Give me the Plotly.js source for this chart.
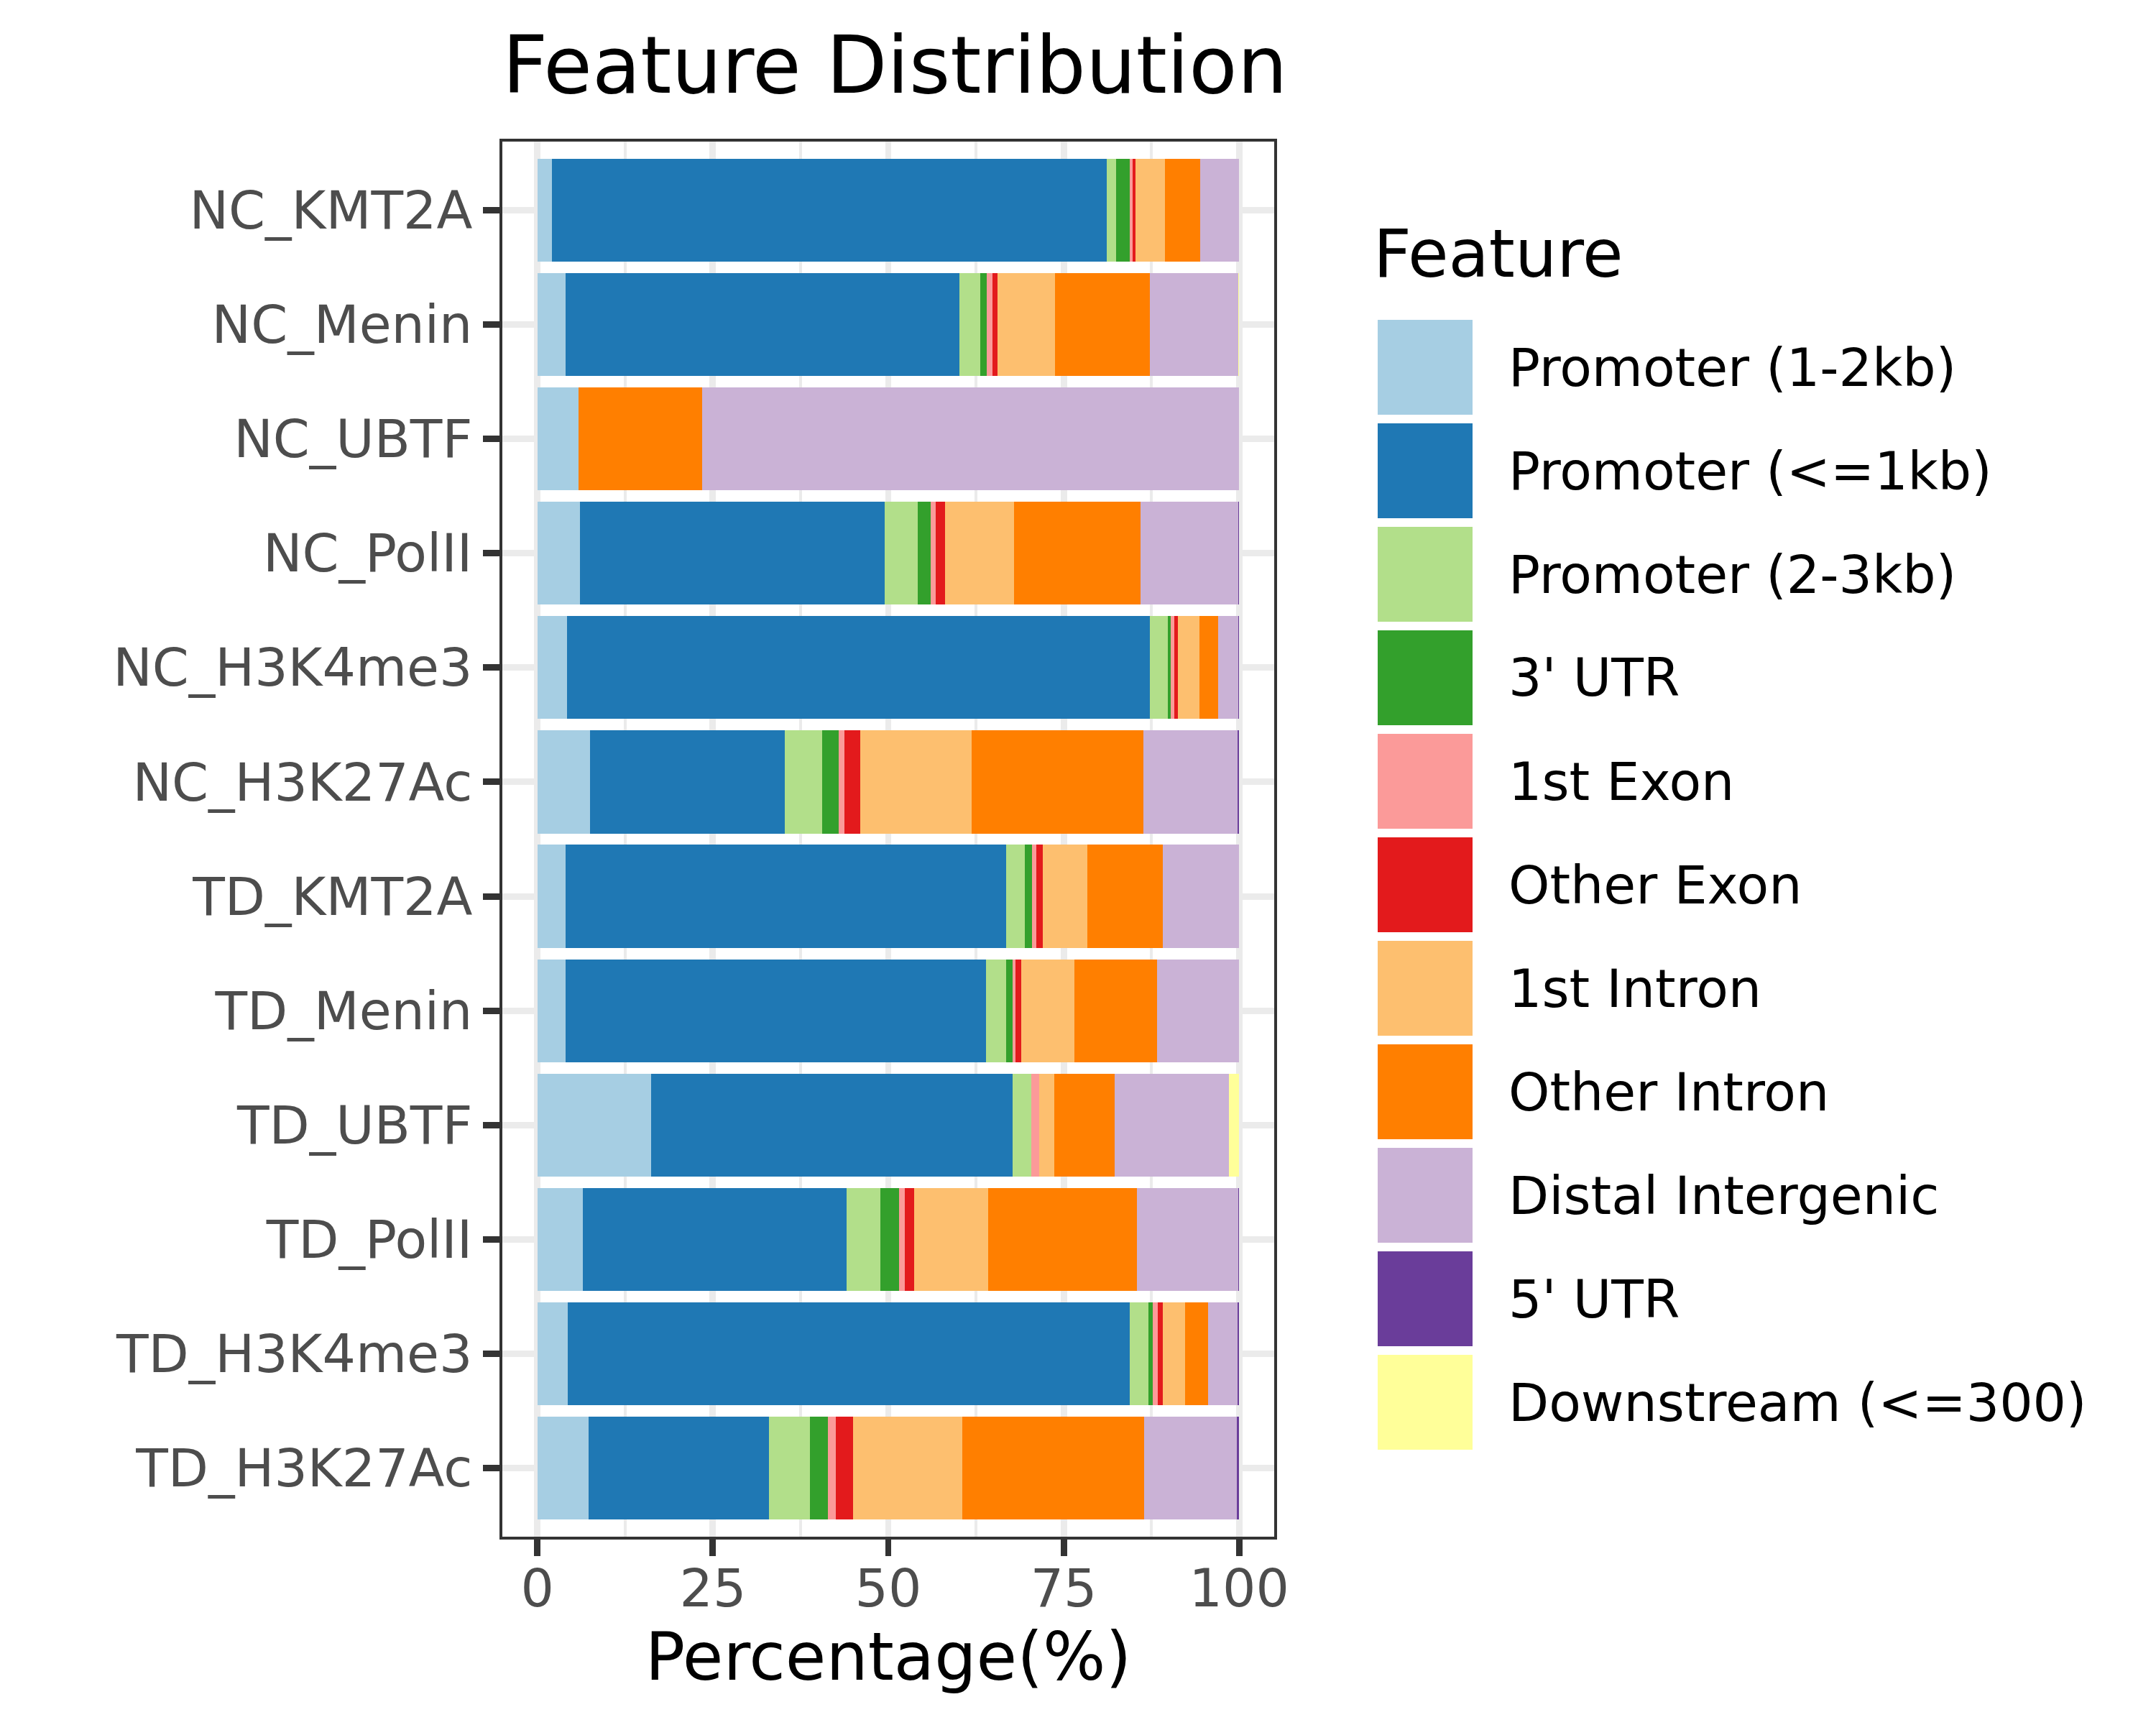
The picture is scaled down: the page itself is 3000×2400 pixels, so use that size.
<!DOCTYPE html>
<html>
<head>
<meta charset="utf-8">
<script src="https://cdn.plot.ly/plotly-3.0.1.min.js"></script>
<style>
  html, body { margin: 0; padding: 0; background: #ffffff; }
  #chart { width: 3000px; height: 2400px; }
</style>
</head>
<body>
<div id="chart"></div>
<script>
// samples, top to bottom
const samples = ['NC_KMT2A', 'NC_Menin', 'NC_UBTF', 'NC_PolII', 'NC_H3K4me3', 'NC_H3K27Ac',
                 'TD_KMT2A', 'TD_Menin', 'TD_UBTF', 'TD_PolII', 'TD_H3K4me3', 'TD_H3K27Ac'];

// percentages per feature, one value per sample
const prom12      = [2.1, 4.0, 5.9, 6.1, 4.2, 7.5, 4.0, 4.0, 16.2, 6.5, 4.3, 7.3];
const prom1       = [79.0, 56.1, 0, 43.4, 83.1, 27.7, 62.8, 59.9, 51.5, 37.6, 80.1, 25.7];
const prom23      = [1.4, 3.0, 0, 4.7, 2.5, 5.4, 2.7, 2.9, 2.7, 4.8, 2.7, 5.8];
const utr3        = [1.9, 0.95, 0, 1.8, 0.4, 2.3, 1.0, 0.9, 0, 2.6, 0.6, 2.6];
const exon1       = [0.4, 0.75, 0, 0.8, 0.6, 0.9, 0.6, 0.4, 1.1, 0.9, 0.7, 1.1];
const exonOther   = [0.4, 0.8, 0, 1.3, 0.5, 2.2, 0.9, 0.8, 0, 1.3, 0.7, 2.5];
const intron1     = [4.2, 8.2, 0, 9.8, 3.0, 15.9, 6.4, 7.6, 2.2, 10.5, 3.2, 15.6];
const intronOther = [5.1, 13.5, 17.6, 18.0, 2.7, 24.5, 10.7, 11.8, 8.6, 21.2, 3.3, 25.9];
const distal      = [5.5, 12.6, 76.5, 14.0, 2.9, 13.4, 10.9, 11.7, 16.2, 14.5, 4.2, 13.2];
const utr5        = [0, 0, 0, 0.1, 0.1, 0.2, 0, 0, 0, 0.1, 0.2, 0.3];
const downstream  = [0, 0.1, 0, 0, 0, 0, 0, 0, 1.5, 0, 0, 0];

const features = ['Promoter (1-2kb)', 'Promoter (<=1kb)', 'Promoter (2-3kb)', "3' UTR", '1st Exon',
                  'Other Exon', '1st Intron', 'Other Intron', 'Distal Intergenic', "5' UTR", 'Downstream (<=300)'];
const featureValues = [prom12, prom1, prom23, utr3, exon1, exonOther, intron1, intronOther, distal, utr5, downstream];
// RColorBrewer "Paired"
const colors = ['#A6CEE3', '#1F78B4', '#B2DF8A', '#33A02C', '#FB9A99', '#E31A1C',
                '#FDBF6F', '#FF7F00', '#CAB2D6', '#6A3D9A', '#FFFF99'];

const FONT = 'DejaVu Sans';

// plot area in pixels
const L = 699, R = 1773, T = 197, B = 2138;
const px2x = px => (px - L) / (R - L);
const py2y = py => (B - py) / (B - T);

const traces = features.map((f, i) => ({
    type: 'bar',
    orientation: 'h',
    name: f,
    x: featureValues[i],
    y: samples,
    width: 0.9,
    marker: { color: colors[i], line: { width: 0 } },
    hoverinfo: 'skip',
    showlegend: false
}));

// hand-built legend (ggplot style large keys)
const shapes = [];
const annotations = [];
const keyLeft = 1917, keySize = 132, keyTop = 445, keyStep = 144, labelLeft = 2097;
features.forEach((f, i) => {
    const top = keyTop + i * keyStep;
    shapes.push({
        type: 'rect', xref: 'paper', yref: 'paper',
        x0: px2x(keyLeft), x1: px2x(keyLeft + keySize),
        y0: py2y(top + keySize), y1: py2y(top),
        fillcolor: colors[i], line: { width: 0 }
    });
    annotations.push({
        xref: 'paper', yref: 'paper',
        x: px2x(labelLeft), y: py2y(top + keySize / 2),
        xanchor: 'left', yanchor: 'middle',
        text: f, showarrow: false,
        font: { family: FONT, size: 73, color: '#000000' }
    });
});
annotations.push({
    xref: 'paper', yref: 'paper',
    x: px2x(keyLeft - 8), y: py2y(354),
    xanchor: 'left', yanchor: 'middle',
    text: 'Feature', showarrow: false,
    font: { family: FONT, size: 92, color: '#000000' }
});

const layout = {
    width: 3000,
    height: 2400,
    paper_bgcolor: '#ffffff',
    plot_bgcolor: '#ffffff',
    margin: { l: L, r: 3000 - R, t: T, b: 2400 - B, pad: 0 },
    barmode: 'stack',
    font: { family: FONT, color: '#000000' },
    title: {
        text: 'Feature Distribution',
        font: { family: FONT, size: 110, color: '#000000' },
        xref: 'paper', x: 0, xanchor: 'left',
        yref: 'container', y: 1 - 129 / 2400, yanchor: 'bottom'
    },
    xaxis: {
        range: [-5, 105],
        tickvals: [0, 25, 50, 75, 100],
        ticktext: ['0', '25', '50', '75', '100'],
        ticks: 'outside', ticklen: 23, tickwidth: 8.9, tickcolor: '#333333',
        ticklabelstandoff: -18,
        tickfont: { family: FONT, size: 73, color: '#4D4D4D' },
        showgrid: true, gridcolor: '#EBEBEB', gridwidth: 8.9,
        minor: { tickvals: [12.5, 37.5, 62.5, 87.5], showgrid: true, gridcolor: '#EBEBEB', gridwidth: 4.4, ticks: '' },
        zeroline: false,
        showline: true, mirror: true, linecolor: '#333333', linewidth: 4,
        title: { text: 'Percentage(%)', font: { family: FONT, size: 92, color: '#000000' }, standoff: 20 }
    },
    yaxis: {
        type: 'category',
        categoryorder: 'array',
        categoryarray: samples,
        range: [11.6, -0.6],
        ticks: 'outside', ticklen: 23, tickwidth: 8.9, tickcolor: '#333333',
        tickfont: { family: FONT, size: 73, color: '#4D4D4D' },
        showgrid: true, gridcolor: '#EBEBEB', gridwidth: 8.9,
        zeroline: false,
        showline: true, mirror: true, linecolor: '#333333', linewidth: 4
    },
    shapes: shapes,
    annotations: annotations
};

Plotly.newPlot('chart', traces, layout, { staticPlot: true, displayModeBar: false });
</script>
</body>
</html>
